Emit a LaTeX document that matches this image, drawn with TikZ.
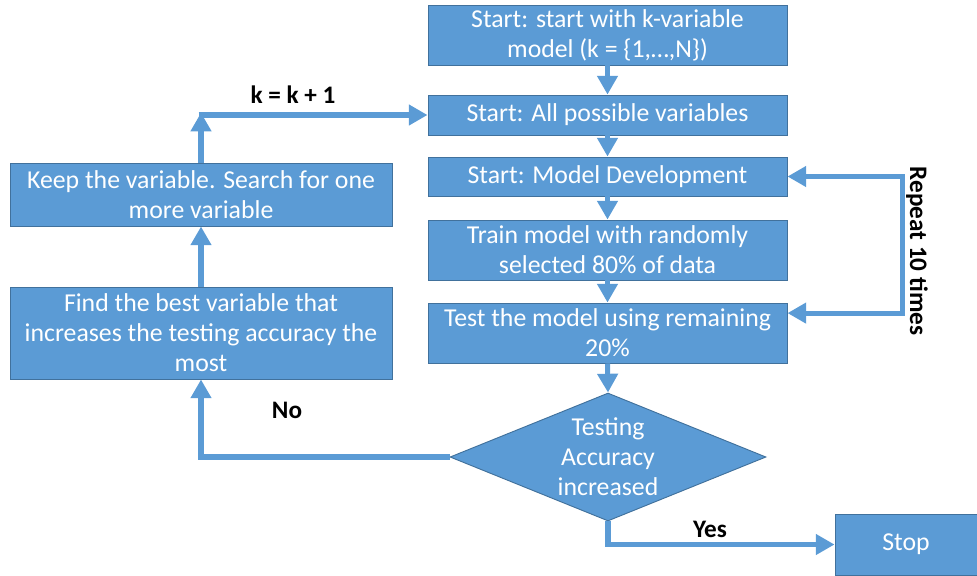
\documentclass[tikz,border=0pt]{standalone}
\usepackage{fontspec}
\setmainfont{Carlito}
\usetikzlibrary{arrows.meta, shapes.geometric}

\definecolor{boxblue}{HTML}{5B9BD5}
\definecolor{boxline}{HTML}{41719C}

\tikzset{
	box/.style={draw=boxline, line width=0.8pt, fill=boxblue, text=white, align=center, inner sep=0pt, font=\fontsize{22}{25.5}\selectfont},
	mainbox/.style={box, minimum width=10.77cm},
	sidebox/.style={box, minimum width=11.46cm},
	flow/.style={draw=boxblue, line width=4.3pt, -{Triangle[length=16pt, width=17pt]}},
	twoway/.style={draw=boxblue, line width=4.3pt, {Triangle[length=16pt, width=17pt]}-{Triangle[length=16pt, width=17pt]}},
	lbl/.style={font=\bfseries\fontsize{21.5}{25}\selectfont, text=black}
}

\begin{document}
\begin{tikzpicture}[x=0.03cm, y=-0.03cm]
	\useasboundingbox (0,0) rectangle (977,575);
	
	% main column
	\node[mainbox, minimum height=1.8cm] (start) at (607.5,35) {Start: start with k-variable\\model (k = \{1,…,N\})};
	\node[mainbox, minimum height=1.2cm] (allvars) at (607.5,115) {Start: All possible variables};
	\node[mainbox, minimum height=1.17cm] (devel) at (607.5,176.5) {Start: Model Development};
	\node[mainbox, minimum height=1.8cm] (train) at (607.5,250) {Train model with randomly\\selected 80\% of data};
	\node[mainbox, minimum height=1.8cm] (test) at (607.5,333) {Test the model using remaining\\20\%};
	\node[box, diamond, aspect=2.47, minimum width=9.48cm, minimum height=3.84cm] (acc) at (608,457) {Testing\\Accuracy\\increased};
	\node[box, minimum width=4.26cm, minimum height=1.83cm] (stop) at (906,544.5) {Stop};
	
	% left column
	\node[sidebox, minimum height=1.89cm] (keep) at (201,194.5) {Keep the variable. Search for one\\more variable};
	\node[sidebox, minimum height=2.76cm] (find) at (201,333) {Find the best variable that\\increases the testing accuracy the\\most};
	
	\draw[flow] (start) -- (allvars);
	\draw[flow] (allvars) -- (devel);
	\draw[flow] (devel) -- (train);
	\draw[flow] (train) -- (test);
	\draw[flow] (test.south) -- (acc.north);
	\draw[flow] (acc.south) |- (stop.west);
	\draw[flow] (acc.west) -| (find.south);
	\draw[flow] (find.north) -- (keep.south);
	
	\coordinate (turn) at (keep.north |- allvars.west);
	\coordinate (testin) at ([yshift=17pt]test.east);
	\draw[flow] (keep.north) -- ([yshift=2pt]turn);
	\draw[flow] ([xshift=-2pt]turn) -- (allvars.west);
	\draw[twoway] (devel.east) -- ++(115,0) |- (testin);
	
	\node[lbl] (kinc) at (293,95) {k = k + 1};
	\node[lbl] (no) at (287,410) {No};
	\node[lbl] (yes) at (710,529) {Yes};
	\node[lbl, rotate=-90] (rep) at (917,251) {Repeat 10 times};
\end{tikzpicture}
\end{document}
